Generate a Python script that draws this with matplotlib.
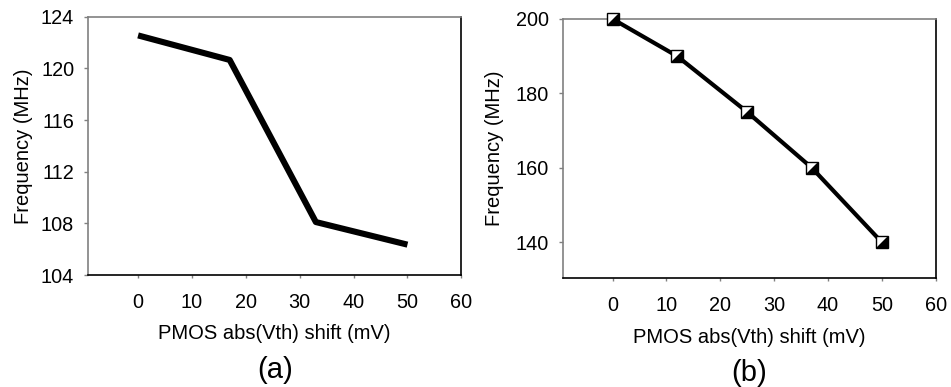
import matplotlib.pyplot as plt
from matplotlib.path import Path

plt.rcParams["font.family"] = ["Liberation Sans", "DejaVu Sans"]

# panel (a)
shift_a = [0, 17, 33, 50]
freq_a = [122.55, 120.65, 108.1, 106.35]
yticks_a = [104, 108, 112, 116, 120, 124]

# panel (b)
shift_b = [0, 12, 25, 37, 50]
freq_b = [200, 190, 175, 160, 140]
yticks_b = [140, 160, 180, 200]

xticks = [0, 10, 20, 30, 40, 50, 60]

# black lower-right half of the square marker
half_marker = Path([(1, 1), (1, -1), (-1, -1), (1, 1)], closed=True)

fig = plt.figure(figsize=(9.51, 3.87), dpi=100)
ax_a = fig.add_axes([0.0925, 0.2894, 0.3926, 0.6675])
ax_b = fig.add_axes([0.592, 0.2817, 0.3919, 0.6693])


def style_axis(ax, xlab_y, ylab_x):
    for side in ["left", "top"]:
        ax.spines[side].set_color("#808080")
    for side in ["right", "bottom"]:
        ax.spines[side].set_color("black")
    for sp in ax.spines.values():
        sp.set_linewidth(1.2)
    ax.tick_params(axis="x", direction="out", length=2.4, width=1,
                   color="#808080", pad=10.5, labelsize=14.3)
    ax.tick_params(axis="y", direction="out", length=2.9, width=1,
                   color="#808080", pad=7, labelsize=14.3)
    ax.set_xticks(xticks)
    ax.set_xlabel("PMOS abs(Vth) shift (mV)", fontsize=14.5, va="center")
    ax.set_ylabel("Frequency (MHz)", fontsize=14.5, va="center")
    ax.xaxis.set_label_coords(0.5, xlab_y)
    ax.yaxis.set_label_coords(ylab_x, 0.5)


ax_a.plot(shift_a, freq_a, color="black", lw=4.4, solid_capstyle="butt")
ax_a.set_xlim(-9.3, 60)
ax_a.set_ylim(104, 124)
ax_a.set_yticks(yticks_a)
style_axis(ax_a, -0.2246, -0.174)
ax_a.text(0.5, -0.368, "(a)", transform=ax_a.transAxes, ha="center",
          va="center", fontsize=21)

ax_b.plot(shift_b, freq_b, color="black", lw=3, zorder=2)
ax_b.plot(shift_b, freq_b, ls="none", marker="s", ms=8.6, mfc="white",
          mec="black", mew=1, zorder=3, clip_on=False)
ax_b.plot(shift_b, freq_b, ls="none", marker=half_marker, ms=8.6,
          mfc="black", mec="black", mew=0, zorder=4, clip_on=False)
ax_b.set_xlim(-9.2, 60)
ax_b.set_ylim(130.4, 200)
ax_b.set_yticks(yticks_b)
style_axis(ax_b, -0.228, -0.1825)
ax_b.text(0.5, -0.367, "(b)", transform=ax_b.transAxes, ha="center",
          va="center", fontsize=21)

fig.savefig("out.png", dpi=100)
